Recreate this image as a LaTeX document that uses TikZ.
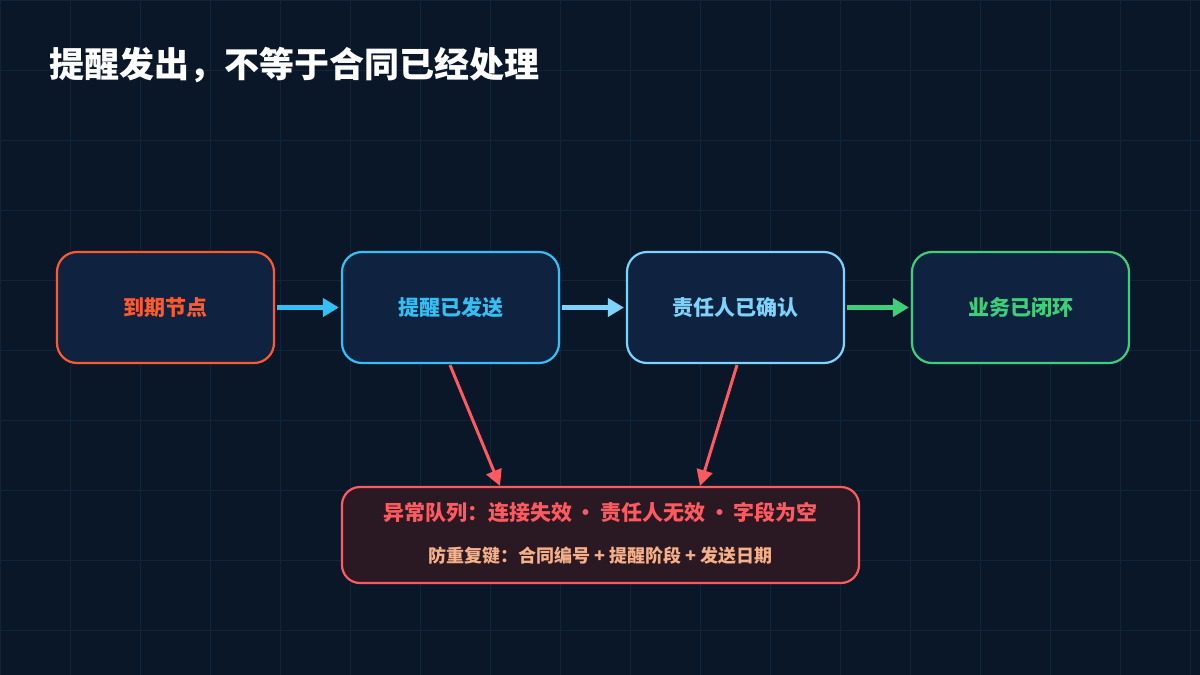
\documentclass[tikz,border=0pt]{standalone}
\usepackage{fontspec}
\setmainfont{Noto Sans CJK SC}
\usetikzlibrary{arrows.meta, positioning}
\definecolor{bgdark}{HTML}{0A1728}
\definecolor{gridline}{HTML}{13243A}
\definecolor{boxfill}{HTML}{0F2340}
\definecolor{duecol}{HTML}{FF5A2E}
\definecolor{sentcol}{HTML}{35C0F5}
\definecolor{ackcol}{HTML}{7DD3FC}
\definecolor{donecol}{HTML}{3ECF7A}
\definecolor{errcol}{HTML}{FF5A5F}
\definecolor{errfill}{HTML}{2A1822}
\definecolor{keycol}{HTML}{F5B08A}
\tikzstyle{stage} = [draw, line width=2.2pt, rounded corners=20pt, fill=boxfill, minimum width=217pt, minimum height=111pt, font=\fontsize{21}{24}\selectfont\bfseries]
\tikzstyle{flow} = [-{Triangle[length=16pt, width=18pt]}, line width=5pt, shorten <=2pt, shorten >=2pt]
\tikzstyle{fault} = [-{Triangle[length=16pt, width=16pt]}, line width=3pt, errcol]
\begin{document}
\begin{tikzpicture}[x=1pt, y=-1pt]
    \fill [bgdark] (0,0) rectangle (1200,675);
    \useasboundingbox (0,0) rectangle (1200,675);
    \draw [gridline, line width=0.6pt, step=70pt] (0,0) grid (1200,675);

    \node (title) [anchor=west, white, font=\fontsize{35}{40}\selectfont\bfseries] at (46,65) {提醒发出，不等于合同已经处理};

    \node (due) [stage, draw=duecol, text=duecol] at (165.5,307.5) {到期节点};
    \node (sent) [stage, draw=sentcol, text=sentcol] at (450.5,307.5) {提醒已发送};
    \node (ack) [stage, draw=ackcol, text=ackcol] at (735.5,307.5) {责任人已确认};
    \node (done) [stage, draw=donecol, text=donecol] at (1020.5,307.5) {业务已闭环};

    \node (queue) [draw=errcol, line width=2.2pt, rounded corners=18pt, fill=errfill, minimum width=517pt, minimum height=96pt] at (600.5,535) {};
    \node (queue text) [errcol, font=\fontsize{21}{24}\selectfont\bfseries] at (600.5,512) {异常队列：连接失效\,·\,责任人无效\,·\,字段为空};
    \node (dedup text) [keycol, font=\fontsize{18}{21}\selectfont\bfseries] at (600.5,556) {防重复键：合同编号 + 提醒阶段 + 发送日期};

    \coordinate (sent out) at (450,365);
    \coordinate (ack out) at (737,365);
    \coordinate (queue in 1) at (500,486);
    \coordinate (queue in 2) at (700,486);

    % Arrows.
    \draw [flow, sentcol] (due) -- (sent);
    \draw [flow, ackcol] (sent) -- (ack);
    \draw [flow, donecol] (ack) -- (done);
    \draw [fault] (sent out) -- (queue in 1);
    \draw [fault] (ack out) -- (queue in 2);
\end{tikzpicture}
\end{document}
